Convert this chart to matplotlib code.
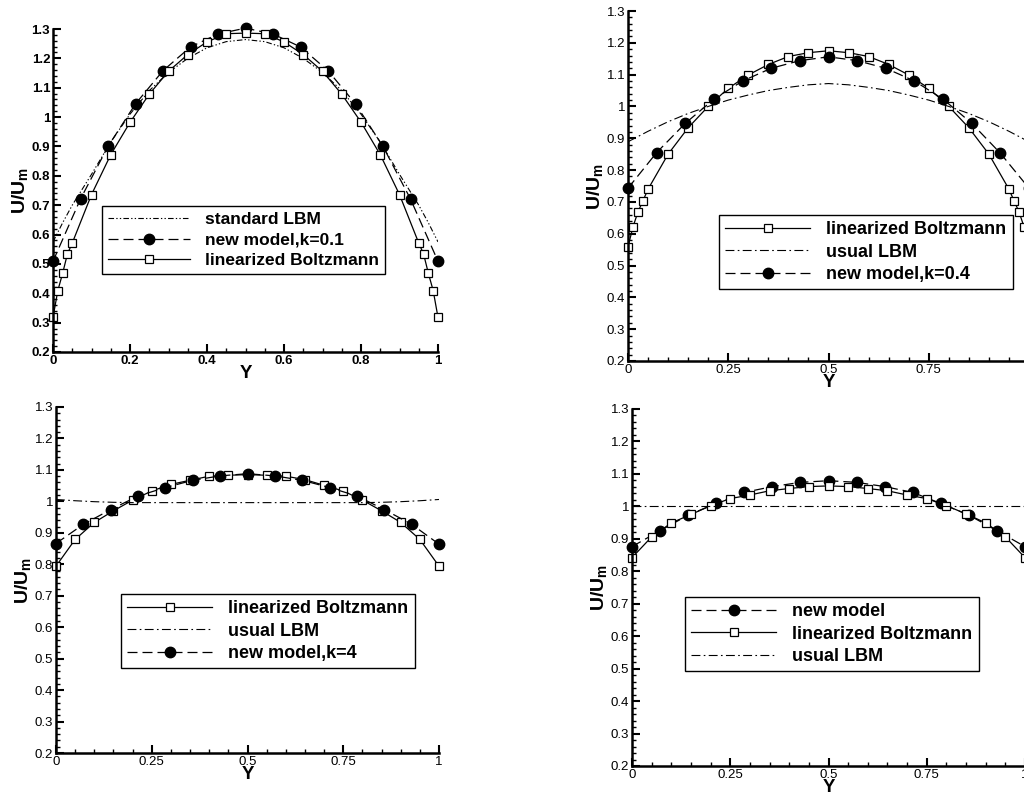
import matplotlib
matplotlib.use("Agg")
import matplotlib.pyplot as plt
from matplotlib.ticker import MultipleLocator, FuncFormatter

plt.rcParams['font.family'] = ['Liberation Sans', 'DejaVu Sans']
plt.rcParams['mathtext.fontset'] = 'custom'
plt.rcParams['mathtext.rm'] = 'Liberation Sans:bold'
plt.rcParams['mathtext.it'] = 'Liberation Sans:bold'
plt.rcParams['mathtext.bf'] = 'Liberation Sans:bold'

# ---------------- data ----------------
# panel 1 (k = 0.1)
p1_lin_x = [0, 0.0125, 0.025, 0.0375, 0.05, 0.1, 0.15, 0.2, 0.25, 0.3, 0.35, 0.4, 0.45, 0.5,
            0.55, 0.6, 0.65, 0.7, 0.75, 0.8, 0.85, 0.9, 0.95, 0.9625, 0.975, 0.9875, 1.0]
p1_lin_y = [0.318, 0.409, 0.468, 0.534, 0.571, 0.736, 0.872, 0.982, 1.078, 1.156, 1.213, 1.256,
            1.284, 1.286, 1.284, 1.256, 1.213, 1.156, 1.078, 0.983, 0.872, 0.736, 0.571, 0.534,
            0.468, 0.409, 0.318]
p1_new_x = [0, 1/14, 2/14, 3/14, 4/14, 5/14, 6/14, 7/14, 8/14, 9/14, 10/14, 11/14, 12/14, 13/14, 1.0]
p1_new_y = [0.509, 0.721, 0.900, 1.045, 1.158, 1.239, 1.283, 1.303, 1.283, 1.239, 1.158, 1.045,
            0.900, 0.721, 0.509]
p1_std_x = [0, 0.025, 0.05, 0.1, 0.15, 0.2, 0.25, 0.3, 0.35, 0.4, 0.45, 0.5,
            0.55, 0.6, 0.65, 0.7, 0.75, 0.8, 0.85, 0.9, 0.95, 0.975, 1.0]
p1_std_y = [0.575, 0.640, 0.700, 0.805, 0.915, 1.010, 1.090, 1.152, 1.200, 1.236, 1.257, 1.264,
            1.257, 1.236, 1.200, 1.152, 1.090, 1.010, 0.915, 0.805, 0.700, 0.640, 0.575]

# panel 2 (k = 0.4)
p2_lin_x = p1_lin_x
p2_lin_y = [0.559, 0.622, 0.669, 0.704, 0.740, 0.850, 0.933, 1.000, 1.057, 1.099, 1.132, 1.157,
            1.169, 1.175, 1.169, 1.157, 1.132, 1.099, 1.057, 1.000, 0.933, 0.850, 0.740, 0.704,
            0.669, 0.622, 0.559]
p2_new_x = p1_new_x
p2_new_y = [0.743, 0.855, 0.947, 1.023, 1.080, 1.120, 1.144, 1.156, 1.144, 1.120, 1.080, 1.023,
            0.947, 0.853, 0.743]
p2_usu_x = [0, 0.05, 0.1, 0.15, 0.2, 0.25, 0.3, 0.35, 0.4, 0.45, 0.5,
            0.55, 0.6, 0.65, 0.7, 0.75, 0.8, 0.85, 0.9, 0.95, 1.0]
p2_usu_y = [0.889, 0.922, 0.952, 0.978, 1.000, 1.020, 1.036, 1.050, 1.060, 1.068, 1.072,
            1.068, 1.060, 1.050, 1.036, 1.020, 1.000, 0.978, 0.952, 0.922, 0.889]

# panel 3 (k = 4)
p3_lin_x = [0, 0.05, 0.1, 0.15, 0.2, 0.25, 0.3, 0.35, 0.4, 0.45, 0.5,
            0.55, 0.6, 0.65, 0.7, 0.75, 0.8, 0.85, 0.9, 0.95, 1.0]
p3_lin_y = [0.794, 0.879, 0.933, 0.970, 1.004, 1.033, 1.054, 1.067, 1.080, 1.083, 1.085,
            1.083, 1.080, 1.069, 1.051, 1.033, 1.004, 0.970, 0.933, 0.879, 0.794]
p3_new_x = p1_new_x
p3_new_y = [0.866, 0.927, 0.974, 1.017, 1.044, 1.067, 1.081, 1.088, 1.081, 1.067, 1.044, 1.017,
            0.974, 0.927, 0.864]
p3_usu_x = p3_lin_x
p3_usu_y = [1.006, 1.002, 0.999, 0.997, 0.996, 0.996, 0.996, 0.996, 0.996, 0.996, 0.996,
            0.996, 0.996, 0.996, 0.996, 0.996, 0.996, 0.997, 0.999, 1.002, 1.006]

# panel 4 (new model)
p4_lin_x = p3_lin_x
p4_lin_y = [0.842, 0.906, 0.949, 0.975, 1.002, 1.024, 1.035, 1.048, 1.055, 1.061, 1.063,
            1.061, 1.055, 1.048, 1.035, 1.024, 1.002, 0.977, 0.949, 0.906, 0.842]
p4_new_x = p1_new_x
p4_new_y = [0.876, 0.925, 0.973, 1.009, 1.043, 1.061, 1.074, 1.079, 1.074, 1.061, 1.043, 1.009,
            0.973, 0.925, 0.876]
p4_usu_x = [0, 0.5, 1.0]
p4_usu_y = [1.0, 1.0, 1.0]

# ---------------- figure ----------------
fig = plt.figure(figsize=(10.24, 7.96), dpi=100)

W, H = 1024, 796
def add_axes(x0, x1, ytop, ybot):
    return fig.add_axes([x0 / W, 1 - ybot / H, (x1 - x0) / W, (ybot - ytop) / H])

ax1 = add_axes(53, 438, 29, 352)
ax2 = add_axes(628, 1029, 11, 361)
ax3 = add_axes(56, 439, 407, 753)
ax4 = add_axes(632, 1025, 409, 766)

LIN = dict(color='black', lw=0.9, ls='-', marker='s', ms=5.2, mfc='white', mec='black', mew=0.9)
NEW = dict(color='black', lw=0.9, ls=(0, (8, 4)), marker='o', ms=7.5, mfc='black', mec='black')
USU = dict(color='black', lw=0.8, ls=(0, (8, 3, 1.5, 3)))
STD = dict(color='black', lw=0.8, ls=(0, (5, 2, 1.2, 2, 1.2, 2)))

def fmt(v, pos):
    s = ('%.2f' % v).rstrip('0').rstrip('.')
    return s

def style(ax, xmaj, bold=False):
    ax.set_xlim(0, 1)
    ax.set_ylim(0.2, 1.3)
    for s in ['top', 'right']:
        ax.spines[s].set_visible(False)
    for s in ['left', 'bottom']:
        ax.spines[s].set_linewidth(1.8)
    ax.xaxis.set_major_locator(MultipleLocator(xmaj))
    ax.xaxis.set_minor_locator(MultipleLocator(0.05))
    ax.yaxis.set_major_locator(MultipleLocator(0.1))
    ax.yaxis.set_minor_locator(MultipleLocator(0.02))
    ax.xaxis.set_major_formatter(FuncFormatter(fmt))
    ax.yaxis.set_major_formatter(FuncFormatter(fmt))
    ax.tick_params(which='major', direction='in', length=6, width=1.5,
                   labelsize=9.5, pad=2, top=False, right=False)
    ax.tick_params(which='minor', direction='in', length=3, width=1.0, top=False, right=False)
    w = 'bold' if bold else 'normal'
    for lab in ax.get_xticklabels() + ax.get_yticklabels():
        lab.set_fontweight(w)
    ax.set_xlabel('Y', fontsize=13.5, fontweight='bold', labelpad=-1)
    ax.set_ylabel(r'U/U$\mathregular{_m}$', fontsize=14, fontweight='bold', labelpad=1)

def legend(ax, handles, labels, anchor, fs):
    leg = ax.legend(handles, labels, loc='upper left', bbox_to_anchor=anchor,
                    bbox_transform=fig.transFigure, frameon=True, fancybox=False,
                    edgecolor='black', framealpha=1, handlelength=4.7, handletextpad=0.9,
                    borderpad=0.35, labelspacing=0.3, borderaxespad=0,
                    prop={'family': 'Liberation Sans', 'weight': 'bold', 'size': fs})
    leg.get_frame().set_linewidth(1.0)
    return leg

# panel 1
s1, = ax1.plot(p1_std_x, p1_std_y, **STD)
n1, = ax1.plot(p1_new_x, p1_new_y, clip_on=False, **NEW)
l1, = ax1.plot(p1_lin_x, p1_lin_y, clip_on=False, **LIN)
style(ax1, 0.2, bold=True)
legend(ax1, [s1, n1, l1], ['standard LBM', 'new model,k=0.1', 'linearized Boltzmann'],
       (102 / W, 1 - 206 / H), 12.5)

# panel 2
l2, = ax2.plot(p2_lin_x, p2_lin_y, clip_on=False, **LIN)
u2, = ax2.plot(p2_usu_x, p2_usu_y, **USU)
n2, = ax2.plot(p2_new_x, p2_new_y, clip_on=False, **NEW)
style(ax2, 0.25)
legend(ax2, [l2, u2, n2], ['linearized Boltzmann', 'usual LBM', 'new model,k=0.4'],
       (719 / W, 1 - 215 / H), 13)

# panel 3
l3, = ax3.plot(p3_lin_x, p3_lin_y, clip_on=False, **LIN)
u3, = ax3.plot(p3_usu_x, p3_usu_y, **USU)
n3, = ax3.plot(p3_new_x, p3_new_y, clip_on=False, **NEW)
style(ax3, 0.25)
legend(ax3, [l3, u3, n3], ['linearized Boltzmann', 'usual LBM', 'new model,k=4'],
       (121 / W, 1 - 594 / H), 13)

# panel 4
n4, = ax4.plot(p4_new_x, p4_new_y, clip_on=False, **NEW)
l4, = ax4.plot(p4_lin_x, p4_lin_y, clip_on=False, **LIN)
u4, = ax4.plot(p4_usu_x, p4_usu_y, **USU)
style(ax4, 0.25)
legend(ax4, [n4, l4, u4], ['new model', 'linearized Boltzmann', 'usual LBM'],
       (685 / W, 1 - 597 / H), 13)

fig.savefig('out.png', dpi=100)
